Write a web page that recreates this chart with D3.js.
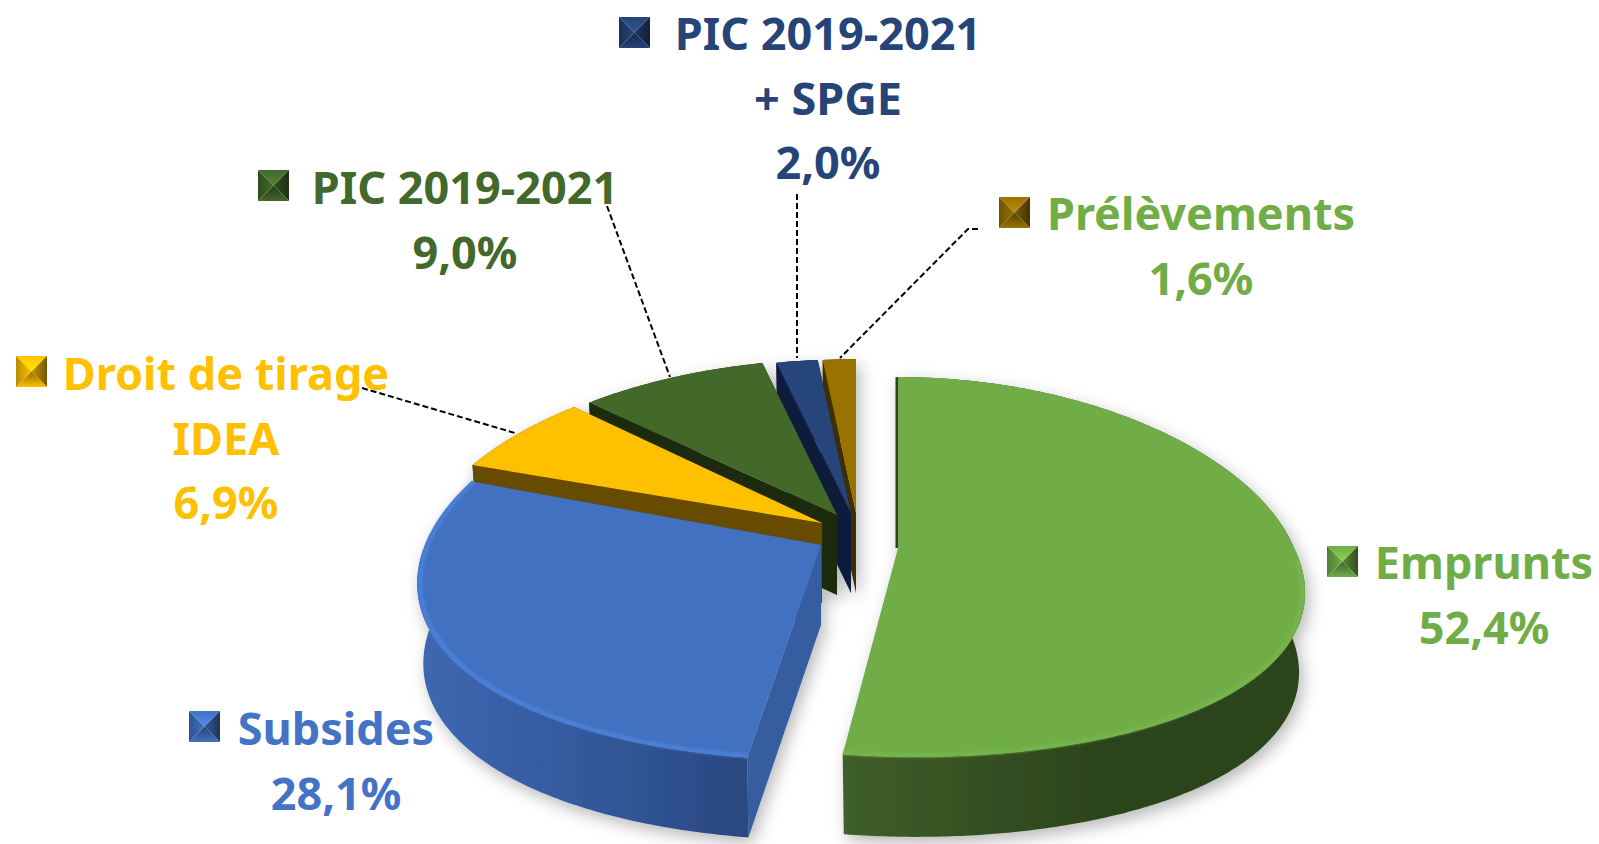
<!DOCTYPE html>
<html>
<head>
<meta charset="utf-8">
<style>
  html, body { margin: 0; padding: 0; background: #fff; overflow: hidden; }
  text { font-family: "Noto Sans", sans-serif; font-weight: 700; }
</style>
<script src="https://cdn.jsdelivr.net/npm/d3@7"></script>
</head>
<body>
<div id="chart"></div>
<script>
var width = 1599,
  height = 844;

// data
var categories = ['Emprunts', 'Subsides', 'Droit de tirage IDEA', 'PIC 2019-2021', 'PIC 2019-2021 + SPGE', 'Prélèvements'];
var shares = [52.4, 28.1, 6.9, 9.0, 2.0, 1.6];
var labelLines = [['Emprunts'], ['Subsides'], ['Droit de tirage', 'IDEA'], ['PIC 2019-2021'], ['PIC 2019-2021', '+ SPGE'], ['Prélèvements']];

// slice colours
var topColors = ['#70ad47', '#4271c2', '#ffc000', '#43682b', '#264478', '#997300'];
var sideColors = ['#2c441c', '#345da0', '#664c00', '#1b2a10', '#0e1d3a', '#3f2d00'];
var textColors = ['#70ad47', '#4472c4', '#ffc000', '#43682b', '#264478', '#70ad47'];
var rimColors = ['#76b54c', '#4c80d9', null, null, null, null];
var rimLimit = [-0.05, 0.35];

// layout of the exploded 3D pie
var apexX = [898, 821, 822, 837, 851, 856],
  apexY = [548, 545, 523, 515, 513, 513],
  depthScale = [1, 1.03, 0.94, 0.91, 0.9, 0.9];
var radiusX = 396,
  radiusY = 188,
  perspectiveX = 0.195,
  perspectiveY = 0.1,
  vanishX = 821,
  depth = 80,
  bottomNarrow = 0.985;

// label layout: centre x, first baseline, marker corner
var labelX = [1484, 336, 226, 465, 828, 1201],
  labelY = [579, 745, 390, 204, 50, 230],
  markerX = [1327, 189, 16, 258, 619, 999],
  markerY = [546, 711, 356, 170, 17, 197],
  markerSize = 31,
  lineStep = 64.5,
  fontSize = 45;

// leader lines
var leaders = [
  { from: [362, 388], to: [515, 433] },
  { from: [607, 206], to: [670, 377] },
  { from: [797, 194], to: [797, 358] },
  { from: [978, 229], via: [968, 229], to: [840, 358] }
];

var svg = d3.select('#chart').append('svg').attr('width', width).attr('height', height);
var defs = svg.append('defs');

var shadow = defs.append('filter').attr('id', 'shadow')
  .attr('x', '-10%').attr('y', '-10%').attr('width', '120%').attr('height', '125%');
shadow.append('feDropShadow')
  .attr('dx', 4).attr('dy', 6).attr('stdDeviation', 8)
  .attr('flood-color', '#000').attr('flood-opacity', 0.28);

defs.append('filter').attr('id', 'soft')
  .attr('x', '-5%').attr('y', '-5%').attr('width', '110%').attr('height', '110%')
  .append('feGaussianBlur').attr('stdDeviation', 1.2);

function wallGradient(id, x1, x2, stops) {
  var g = defs.append('linearGradient').attr('id', id)
    .attr('gradientUnits', 'userSpaceOnUse')
    .attr('x1', x1).attr('x2', x2).attr('y1', 0).attr('y2', 0);
  stops.forEach(function (s) {
    g.append('stop').attr('offset', s[0]).attr('stop-color', s[1]);
  });
  return 'url(#' + id + ')';
}

var wallFills = [
  wallGradient('wall0', 841, 1302, [[0, '#3f5f29'], [0.55, '#2c441c'], [1, '#2c441c']]),
  wallGradient('wall1', 418, 751, [[0, '#3e68b2'], [0.5, '#33599c'], [1, '#2a4780']]),
  '#664c00', '#1b2a10', '#0e1d3a', '#3f2d00'
];

var pie = d3.pie().sort(null).value(function (d) { return d; });
var arcs = pie(shares);

// projects an angle and a radial fraction of slice i onto the page
function project(i, theta, r, lower) {
  var u = Math.sin(theta) * r,
    v = Math.cos(theta) * r,
    wx = 1 + perspectiveX * v,
    wy = 1 + perspectiveY * v,
    k = lower ? bottomNarrow : 1;
  // the part of the plate coming towards the viewer also drifts away from the vanishing point
  var drift = (apexX[i] - vanishX) * (1 / (1 + perspectiveX * Math.min(v, 0)) - 1);
  return [
    apexX[i] + radiusX * u * k / wx + drift,
    apexY[i] - radiusY * depthScale[i] * v / wy + (lower ? depth : 0)
  ];
}

function angles(a0, a1) {
  return d3.range(a0, a1, 0.01).concat([a1]);
}

var line = d3.line();
var pieGroup = svg.append('g').attr('filter', 'url(#shadow)');

// back to front: brown, navy, dark green, yellow, blue, green
[5, 4, 3, 2, 1, 0].forEach(function (i) {
  var a = arcs[i],
    g = pieGroup.append('g').attr('class', 'slice').attr('data-name', categories[i]),
    ts = angles(a.startAngle, a.endAngle);

  // outer wall
  var wall = ts.map(function (t) { return project(i, t, 1, false); })
    .concat(ts.slice().reverse().map(function (t) { return project(i, t, 1, true); }));
  g.append('path').attr('d', line(wall) + 'Z').attr('fill', wallFills[i]);

  // radial walls
  [a.startAngle, a.endAngle].forEach(function (t, n) {
    if (i === 0 && n === 1) return;
    var face = [
      project(i, t, 1, false), project(i, t, 0, false),
      project(i, t, 0, true), project(i, t, 1, true)
    ];
    g.append('path').attr('d', line(face) + 'Z').attr('fill', sideColors[i]);
  });

  // thin dark edge on the side of the green slice facing the gap
  if (i === 0) {
    g.append('path')
      .attr('d', line([project(0, a.startAngle, 1, false), project(0, a.startAngle, 0, false)]))
      .attr('transform', 'translate(-1,0)')
      .attr('stroke', '#2c441c').attr('stroke-width', 3).attr('fill', 'none');
  }

  // top face
  var top = [project(i, a.startAngle, 0, false)].concat(ts.map(function (t) { return project(i, t, 1, false); }));
  g.append('path').attr('d', line(top) + 'Z').attr('fill', topColors[i]);

  // bevel highlight on the front rim
  if (rimColors[i]) {
    var rimTs = ts.filter(function (t) { return Math.cos(t) < rimLimit[i]; });
    g.append('path')
      .attr('d', line(rimTs.map(function (t) { return project(i, t, 0.993, false); })))
      .attr('fill', 'none')
      .attr('stroke', rimColors[i])
      .attr('stroke-width', 4)
      .attr('filter', 'url(#soft)');
  }
});

// leaders
svg.append('g').selectAll('path').data(leaders).enter().append('path')
  .attr('d', function (d) {
    return line([d.from].concat(d.via ? [d.via] : [], [d.to]));
  })
  .attr('fill', 'none')
  .attr('stroke', '#000')
  .attr('stroke-width', 2)
  .attr('stroke-dasharray', '6,3');

// labels
var comma = d3.formatLocale({ decimal: ',', thousands: ' ', grouping: [3], currency: ['', ''] }).format('.1f');

function faceGradient(id, horizontal, outer, inner, flip) {
  var g = defs.append('linearGradient').attr('id', id)
    .attr('x1', flip && horizontal ? 1 : 0).attr('x2', horizontal && !flip ? 1 : 0)
    .attr('y1', flip && !horizontal ? 1 : 0).attr('y2', !horizontal && !flip ? 1 : 0);
  g.append('stop').attr('offset', 0).attr('stop-color', outer);
  g.append('stop').attr('offset', 1).attr('stop-color', inner);
  return 'url(#' + id + ')';
}

function pyramid(g, id, x, y, s, color) {
  var c = d3.color(color),
    m = [x + s / 2, y + s / 2],
    tl = [x, y], tr = [x + s, y], br = [x + s, y + s], bl = [x, y + s];
  [
    [[tl, tr, m], faceGradient(id + 't', false, c, c.brighter(0.6), false)],
    [[tr, br, m], faceGradient(id + 'r', true, c.darker(2.2), c.darker(0.7), true)],
    [[br, bl, m], faceGradient(id + 'b', false, c, c.darker(1.6), true)],
    [[bl, tl, m], faceGradient(id + 'l', true, c.darker(0.9), c, false)]
  ].forEach(function (f) {
    g.append('path').attr('d', line(f[0]) + 'Z').attr('fill', f[1]);
  });
}

var labelGroup = svg.append('g');
shares.forEach(function (value, i) {
  var g = labelGroup.append('g').attr('class', 'label'),
    lines = labelLines[i].concat([comma(value) + '%']);
  lines.forEach(function (t, n) {
    g.append('text')
      .attr('x', labelX[i])
      .attr('y', labelY[i] + n * lineStep)
      .attr('text-anchor', 'middle')
      .attr('font-size', fontSize)
      .attr('fill', textColors[i])
      .text(t);
  });
  pyramid(g, 'm' + i, markerX[i], markerY[i], markerSize, topColors[i]);
});
</script>
</body>
</html>
